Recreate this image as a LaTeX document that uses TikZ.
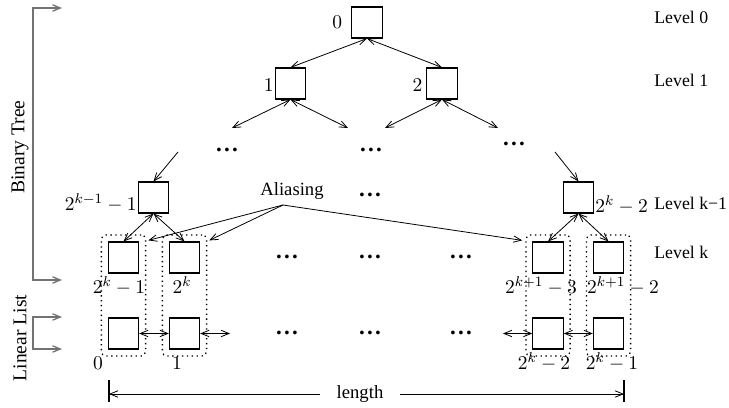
\documentclass[tikz,border=0pt]{standalone}
\usepackage{fontspec}
\setmainfont{Liberation Serif}
\usetikzlibrary{arrows.meta,fit}
\newcommand{\gapdots}{.\kern1.2pt.\kern1.2pt.}
\begin{document}
\begin{tikzpicture}[x=0.5625pt,y=-0.5625pt,
  font=\fontsize{10.5}{12.5}\selectfont,
  >={Straight Barb[length=4.4pt,width=3.6pt]},
  cell/.style={draw, line width=0.65pt, minimum width=17pt, minimum height=17.4pt, inner sep=0pt},
  link/.style={<->, line width=0.45pt},
  feed/.style={->, line width=0.45pt},
  group/.style={draw, dotted, line width=0.75pt, rounded corners=2.5pt, inner sep=3.6pt},
  bracket/.style={draw=black!55, line width=0.7pt},
  more/.style={font=\fontsize{13}{13}\bfseries, inner sep=0pt},
  lvl/.style={anchor=west, inner sep=0pt, font=\fontsize{10}{12}\selectfont},
  num/.style={inner sep=0pt, font=\fontsize{11}{13}\selectfont},
  side/.style={rotate=90, inner sep=0pt, font=\fontsize{11}{13}\selectfont}
]
\useasboundingbox (0,0) rectangle (729,408);

% ---- tree cells ----
\node[cell] (r0) at (367,22.5) {};
\node[cell] (a1) at (290.5,83.5) {};
\node[cell] (a2) at (442,83.5) {};
\node[cell] (L)  at (153.5,197.5) {};
\node[cell] (R)  at (578.5,197.5) {};

% ---- level k and the linear list ----
\node[cell] (k1) at (123.5,257.5) {};
\node[cell] (k2) at (184.5,257.5) {};
\node[cell] (k3) at (548,257.5) {};
\node[cell] (k4) at (608.5,257.5) {};
\node[cell] (l1) at (123.5,333.5) {};
\node[cell] (l2) at (184.5,333.5) {};
\node[cell] (l3) at (548,333.5) {};
\node[cell] (l4) at (608.5,333.5) {};

% each leaf is the same cell as its list entry
\node[group, fit=(k1)(l1)] (g1) {};
\node[group, fit=(k2)(l2)] (g2) {};
\node[group, fit=(k3)(l3)] (g3) {};
\node[group, fit=(k4)(l4)] (g4) {};

% ---- cell indices ----
\node[num, anchor=east] (n0) at ([xshift=-5pt]r0.west) {$0$};
\node[num, anchor=east] (n1) at ([xshift=-0.5pt,yshift=-1pt]a1.west) {$1$};
\node[num, anchor=east] (n2) at ([xshift=-2pt,yshift=-1pt]a2.west) {$2$};
\node[num, anchor=base east] (nL) at ([xshift=-0.5pt,yshift=1.5pt]L.south west) {$2^{k-1}-1$};
\node[num, anchor=base west] (nR) at ([xshift=0.5pt,yshift=0.5pt]R.south east) {$2^{k}-2$};
\node[num] (nk1) at (119,285.5) {$2^{k}-1$};
\node[num] (nk2) at (182,285.5) {$2^{k}$};
\node[num] (nk3) at (541,286) {$2^{k+1}-3$};
\node[num] (nk4) at (623,286) {$2^{k+1}-2$};
\node[num] (nl1) at (98,363) {$0$};
\node[num] (nl2) at (177,363) {$1$};
\node[num] (nl3) at (544,362) {$2^{k}-2$};
\node[num] (nl4) at (612,362) {$2^{k}-1$};

% ---- elided parts ----
\node[more] (d1) at (227,150) {\gapdots};
\node[more] (d2) at (371,150) {\gapdots};
\node[more] (d3) at (514,144) {\gapdots};
\node[more] (d4) at (370,195) {\gapdots};
\node[more] (d5) at (287,257) {\gapdots};
\node[more] (d6) at (370,257) {\gapdots};
\node[more] (d7) at (461,257) {\gapdots};
\node[more] (d8) at (287,333) {\gapdots};
\node[more] (d9) at (370,333) {\gapdots};
\node[more] (d10) at (461,333) {\gapdots};

% ---- tree edges ----
\coordinate (e1) at (232,128);
\coordinate (e2) at (348,128);
\coordinate (e3) at (385,128);
\coordinate (e4) at (498,128);
\coordinate (f1) at (178,152);
\coordinate (f2) at (555,152);
\draw[link] (r0.south) -- (a1.north);
\draw[link] (r0.south) -- (a2.north);
\draw[link] (a1.south) -- (e1);
\draw[link] (a1.south) -- (e2);
\draw[link] (a2.south) -- (e3);
\draw[link] (a2.south) -- (e4);
\draw[feed] (f1) -- (L.north);
\draw[feed] (f2) -- (R.north);
\draw[link] (L.south) -- (k1.north);
\draw[link] (L.south) -- (k2.north);
\draw[link] (R.south) -- (k3.north);
\draw[link] (R.south) -- (k4.north);

% ---- list links ----
\coordinate (m1) at (230,333.5);
\coordinate (m2) at (503,333.5);
\draw[link] (l1.east) -- (l2.west);
\draw[link] (l2.east) -- (m1);
\draw[link] (m2) -- (l3.west);
\draw[link] (l3.east) -- (l4.west);

% ---- aliasing ----
\node[inner sep=0pt] (alias) at (292,191) {Aliasing};
\coordinate (ax) at (283,205);
\draw[feed] (ax) -- ([shift={(2,6)}]g1.north east);
\draw[feed] (ax) -- ([shift={(2,6)}]g2.north east);
\draw[feed] (ax) -- ([shift={(-3,6)}]g3.north west);

% ---- level names ----
\node[lvl] (lv0) at (654,17) {Level 0};
\node[lvl] (lv1) at (654,80) {Level 1};
\node[lvl] (lv2) at (654,203) {Level k−1};
\node[lvl] (lv3) at (654,252) {Level k};

% ---- side brackets ----
\coordinate (bt-a) at (62,8);
\coordinate (bt-b) at (62,280);
\draw[bracket, <->] (bt-a) -- ++(-29,0) |- (bt-b);
\node[side] (bt) at (20,147) {Binary Tree};
\coordinate (ll-a) at (62,317);
\coordinate (ll-b) at (62,349);
\draw[bracket, <->] (ll-a) -- ++(-29,0) |- (ll-b);
\node[side] (ll) at (20,338) {Linear List};

% ---- length ----
\coordinate (lenL) at (109,394);
\coordinate (lenR) at (624,394);
\node[fill=white, inner xsep=9pt, inner ysep=1pt] (len) at (360,394) {length};
\draw[feed] (len.west) -- (lenL);
\draw[feed] (len.east) -- (lenR);
\draw[line width=0.7pt] (lenL) ++(0,-14) -- ++(0,22);
\draw[line width=0.7pt] (lenR) ++(0,-14) -- ++(0,22);
\end{tikzpicture}
\end{document}
